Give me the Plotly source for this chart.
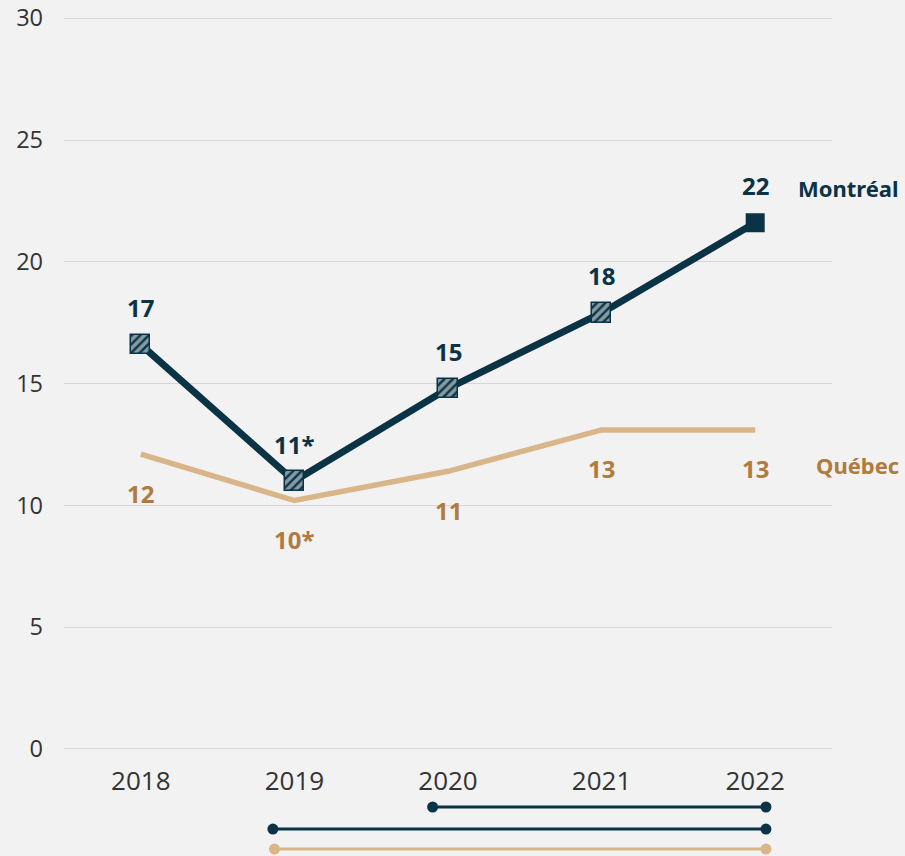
import plotly.graph_objects as go

years = ["2018", "2019", "2020", "2021", "2022"]
montreal = [16.6, 11.0, 14.8, 17.9, 21.6]
montreal_labels = ["17", "11*", "15", "18", "22"]
quebec = [12.1, 10.2, 11.4, 13.1, 13.1]
quebec_labels = ["12", "10*", "11", "13", "13"]
# hatched (estimate to interpret with caution) vs solid markers for Montréal
montreal_hatched = [True, True, True, True, False]

# significance bars below the axis: (start, end) in category units, row level, series
sig_starts = [1.90, 0.86, 0.87]
sig_ends = [4.07, 4.07, 4.07]
sig_rows = [0.463, 0.255, 0.066]
sig_series = ["Montréal", "Montréal", "Québec"]

DARK = "#0b3346"
TAN = "#d8b68a"
TAN_TXT = "#b07b3c"
BG = "#f2f2f2"

# hatched marker box size (in axis units)
MARK_W = 0.125
MARK_H = 0.80

fig = go.Figure()

fig.add_trace(go.Scatter(
    x=years, y=quebec, mode="lines",
    line=dict(color=TAN, width=5.5), hoverinfo="skip", showlegend=False,
))
fig.add_trace(go.Scatter(
    x=years, y=montreal, mode="lines",
    line=dict(color=DARK, width=7), hoverinfo="skip", showlegend=False,
))
sx = [y for y, h in zip(years, montreal_hatched) if not h]
sy = [v for v, h in zip(montreal, montreal_hatched) if not h]
fig.add_trace(go.Scatter(
    x=sx, y=sy, mode="markers",
    marker=dict(symbol="square", size=19, color=DARK),
    showlegend=False, hoverinfo="skip",
))

# hatched markers drawn as small patterned boxes on an overlaid subplot (above the lines)
hx = [y for y, h in zip(years, montreal_hatched) if h]
hy = [v for v, h in zip(montreal, montreal_hatched) if h]
fig.add_trace(go.Bar(
    x=hx, y=[MARK_H] * len(hx), base=[v - MARK_H / 2 for v in hy],
    width=MARK_W, xaxis="x3", yaxis="y3",
    marker=dict(color=DARK,
                line=dict(color=DARK, width=1.5),
                pattern=dict(shape="/", fgcolor="white", bgcolor=DARK, size=6, solidity=0.6)),
    showlegend=False, hoverinfo="skip",
))

# significance lines
for s, e, r, ser in zip(sig_starts, sig_ends, sig_rows, sig_series):
    c = DARK if ser == "Montréal" else TAN
    fig.add_trace(go.Scatter(
        x=[s, e], y=[r, r], mode="lines+markers", xaxis="x2", yaxis="y2",
        line=dict(color=c, width=3), marker=dict(size=11, color=c),
        showlegend=False, hoverinfo="skip", cliponaxis=False,
    ))

label_font = "Noto Sans"
# annotations on a category axis use the category index
for i, (v, t) in enumerate(zip(montreal, montreal_labels)):
    fig.add_annotation(x=i, y=v, xref="x", yref="y", text=f"<b>{t}</b>", showarrow=False,
                       yshift=37, font=dict(family=label_font, size=24, color=DARK))
for i, (v, t) in enumerate(zip(quebec, quebec_labels)):
    fig.add_annotation(x=i, y=v, xref="x", yref="y", text=f"<b>{t}</b>", showarrow=False,
                       yshift=-39, font=dict(family=label_font, size=24, color=TAN_TXT))

last = len(years) - 1
fig.add_annotation(x=last, y=montreal[-1], xref="x", yref="y", text="<b>Montréal</b>",
                   showarrow=False, xanchor="left", xshift=41, yshift=35,
                   font=dict(family=label_font, size=22, color=DARK))
fig.add_annotation(x=last, y=quebec[-1], xref="x", yref="y", text="<b>Québec</b>",
                   showarrow=False, xanchor="left", xshift=59, yshift=-35,
                   font=dict(family=label_font, size=22, color=TAN_TXT))

x_tick_font = dict(family="Open Sans", size=26, color="#333333")
y_tick_font = dict(family="Open Sans", size=23.5, color="#333333")
YR = [-0.05, 30.05]
MAIN_DOM = [0.1261, 1]
fig.update_layout(
    width=905, height=856,
    margin=dict(l=64, r=73, t=17, b=0, autoexpand=False),
    paper_bgcolor=BG, plot_bgcolor=BG,
    xaxis=dict(type="category", range=[-0.5, 4.5], showgrid=False, zeroline=False,
               showline=False, ticks="", tickfont=x_tick_font, anchor="y",
               ticklabelstandoff=13, automargin=False),
    yaxis=dict(range=YR, domain=MAIN_DOM, tickvals=[0, 5, 10, 15, 20, 25, 30], showgrid=True,
               gridcolor="#d6d6d6", gridwidth=1, zeroline=False, showline=False,
               ticks="", tickfont=y_tick_font, ticklabelstandoff=20, automargin=False),
    xaxis2=dict(range=[-0.5, 4.5], anchor="y2", visible=False),
    yaxis2=dict(range=[0, 1], domain=[0, MAIN_DOM[0]], anchor="x2", visible=False),
    xaxis3=dict(type="category", categoryarray=years, categoryorder="array",
                range=[-0.5, 4.5], anchor="y3", visible=False, overlaying="x"),
    yaxis3=dict(range=YR, visible=False, overlaying="y", anchor="x3"),
    bargap=0,
)

fig.write_html("out.html", config={"displayModeBar": False},
               post_script="document.body.style.margin='0';")
